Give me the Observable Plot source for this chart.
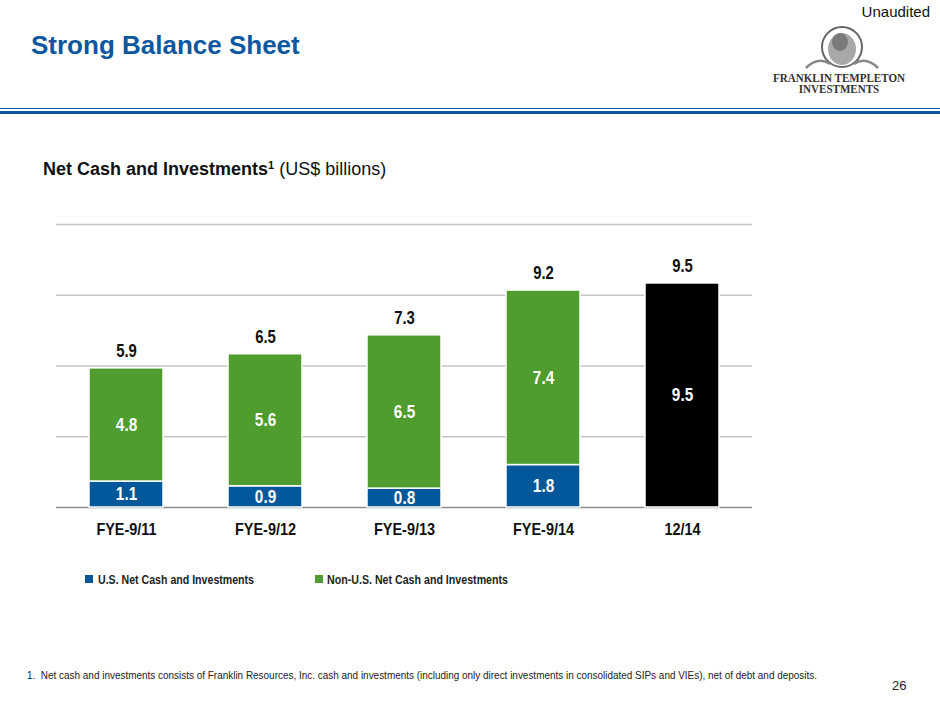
<!DOCTYPE html>
<html>
<head>
<meta charset="utf-8">
<script src="https://cdn.jsdelivr.net/npm/d3@7"></script>
<script src="https://cdn.jsdelivr.net/npm/@observablehq/plot@0.6"></script>
<style>
  html, body { margin: 0; padding: 0; background: #fff; }
  body { width: 940px; height: 705px; position: relative; overflow: hidden; font-family: "Liberation Sans", Arial, sans-serif; }
  .abs { position: absolute; white-space: nowrap; }
  .fit { transform-origin: 0 50%; }
  #title { left: 31px; top: 30px; font-size: 26px; font-weight: bold; color: #0B57A0; }
  #unaudited { right: 10px; top: 3px; font-size: 15px; color: #111; }
  #line1 { left: 0; top: 108px; width: 940px; height: 1px; background: #0B57A0; }
  #line2 { left: 0; top: 111px; width: 940px; height: 3px; background: #0B57A0; }
  #subtitle { left: 43px; top: 159px; font-size: 18px; color: #111; }
  #subtitle b sup { font-size: 11px; vertical-align: 6px; }
  #logo { left: 773px; top: 73px; font-family: "Liberation Serif", "DejaVu Serif", serif; font-size: 12.5px; line-height: 11px; font-weight: bold; color: #333; text-align: center; white-space: pre; }
  #portrait { left: 800px; top: 24px; }
  #chart { left: 0; top: 200px; }
  .legend { top: 573px; font-size: 12.5px; font-weight: bold; color: #222; }
  .sq { position: absolute; width: 8px; height: 8px; top: 575px; }
  #footnote { left: 27px; top: 669px; font-size: 11px; color: #222; }
  #page { left: 892px; top: 678px; font-size: 13px; color: #222; }
</style>
</head>
<body>
<div id="title" class="abs">Strong Balance Sheet</div>
<div id="unaudited" class="abs">Unaudited</div>
<svg id="portrait" class="abs" width="84" height="46" viewBox="0 0 84 46">
  <ellipse cx="42" cy="23" rx="20" ry="20" fill="none" stroke="#666" stroke-width="2"/>
  <ellipse cx="42" cy="25" rx="14" ry="16" fill="#a8a8a8"/>
  <ellipse cx="40" cy="18" rx="8" ry="9" fill="#7a7a7a"/>
  <path d="M6 44 Q18 32 30 40 M78 44 Q66 32 54 40" stroke="#888" stroke-width="2.5" fill="none"/>
</svg>
<div id="logo" class="abs fit" data-w="132">FRANKLIN TEMPLETON
INVESTMENTS</div>
<div id="line1" class="abs"></div>
<div id="line2" class="abs"></div>
<div id="subtitle" class="abs"><b>Net Cash and Investments<sup>1</sup></b> (US$ billions)</div>
<div id="chart" class="abs"></div>
<div class="sq" style="left:85px;background:#03579B"></div>
<div id="legend1" class="abs legend fit" style="left:98px" data-w="156">U.S. Net Cash and Investments</div>
<div class="sq" style="left:315px;background:#4F9D2E"></div>
<div id="legend2" class="abs legend fit" style="left:327px" data-w="181">Non-U.S. Net Cash and Investments</div>
<div id="footnote" class="abs fit" data-w="790">1.&nbsp; Net cash and investments consists of Franklin Resources, Inc. cash and investments (including only direct investments in consolidated SIPs and VIEs), net of debt and deposits.</div>
<div id="page" class="abs">26</div>
<script>
// ---- data ----
const categories = ["FYE-9/11", "FYE-9/12", "FYE-9/13", "FYE-9/14", "12/14"];
const usValues = [1.1, 0.9, 0.8, 1.8, null];
const nonUsValues = [4.8, 5.6, 6.5, 7.4, null];
const totalOnlyValues = [null, null, null, null, 9.5];
const totals = [5.9, 6.5, 7.3, 9.2, 9.5];
const seriesNames = ["U.S. Net Cash and Investments", "Non-U.S. Net Cash and Investments", "Total"];
const seriesColors = ["#03579B", "#4F9D2E", "#000000"];
const yTicks = [0, 3, 6, 9, 12];

// ---- build tables ----
const rows = [];
categories.forEach((c, i) => {
  [usValues, nonUsValues, totalOnlyValues].forEach((arr, s) => {
    if (arr[i] != null) rows.push({cat: c, series: seriesNames[s], value: arr[i]});
  });
});
const totalRows = categories.map((c, i) => ({cat: c, total: totals[i]}));

const chart = Plot.plot({
  width: 940,
  height: 345,
  marginTop: 24,
  marginBottom: 38,
  marginLeft: 56,
  marginRight: 188,
  style: {fontFamily: '"Liberation Sans", Arial, sans-serif', background: "transparent", overflow: "visible"},
  x: {domain: categories, paddingInner: 0.47, paddingOuter: 0.235, label: null},
  y: {domain: [0, 12], axis: null},
  color: {domain: seriesNames, range: seriesColors},
  marks: [
    Plot.ruleY(yTicks.filter(d => d > 0), {stroke: "#c4c4c4", strokeWidth: 1.5}),
    Plot.ruleY([0], {stroke: "#8c8c8c", strokeWidth: 1.5}),
    Plot.barY(rows, Plot.stackY({x: "cat", y: "value", fill: "series", stroke: "white", strokeWidth: 1.5, order: null})),
    Plot.text(rows, Plot.stackY({x: "cat", y: "value", text: d => d.value.toFixed(1), fill: "white", fontSize: 18, fontWeight: "bold", order: null})),
    Plot.text(totalRows, {x: "cat", y: "total", text: d => d.total.toFixed(1), dy: -17, fill: "#111", fontSize: 17.5, fontWeight: "bold", stroke: "white", strokeWidth: 6, paintOrder: "stroke"}),
    Plot.axisX({tickSize: 0, tickPadding: 15, fontSize: 17, fontWeight: "bold", fill: "#111", label: null})
  ]
});
document.getElementById("chart").appendChild(chart);

// narrow (Arial Narrow–like) rendering of the chart's texts
chart.querySelectorAll("text").forEach(t => {
  const len = t.getComputedTextLength();
  if (len > 0) {
    t.setAttribute("textLength", (len * 0.85).toFixed(2));
    t.setAttribute("lengthAdjust", "spacingAndGlyphs");
  }
});
// narrow HTML texts to their widths
document.querySelectorAll(".fit").forEach(el => {
  const w = +el.dataset.w;
  const actual = el.getBoundingClientRect().width;
  if (actual > 0) el.style.transform = `scaleX(${w / actual})`;
});
</script>
</body>
</html>
